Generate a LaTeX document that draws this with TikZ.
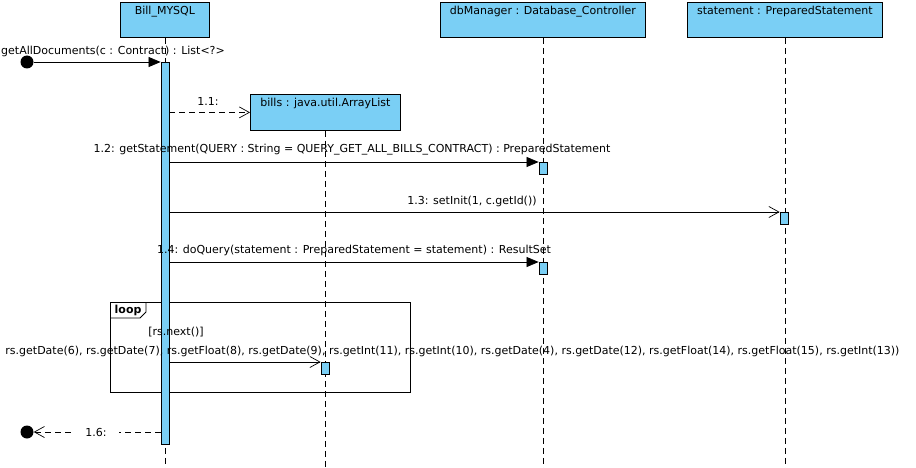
\documentclass[tikz,border=0pt]{standalone}
\usepackage{fontspec}
\setmainfont{DejaVu Sans}
\usetikzlibrary{arrows.meta}
\definecolor{vpblue}{RGB}{122,207,245}
\begin{document}
\begin{tikzpicture}[x=1pt,y=-1pt,
  font=\fontsize{11}{13}\selectfont,
  objbox/.style={draw, fill=vpblue, line width=0.8pt, anchor=north west, minimum height=35pt, inner sep=0pt},
  objtitle/.style={anchor=north, inner sep=0pt, yshift=-3.5pt},
  lifeline/.style={line width=0.7pt, dash pattern=on 6pt off 4pt},
  actbar/.style={draw, fill=vpblue, line width=0.8pt, minimum width=8pt, inner sep=0pt, anchor=north},
  sync/.style={line width=0.7pt, -{Triangle[length=12pt,width=10pt]}},
  async/.style={line width=0.7pt, -{Straight Barb[length=10pt,width=11pt]}},
  ret/.style={async, dash pattern=on 6pt off 4pt},
  msg/.style={inner sep=0pt},
  endpt/.style={circle, fill=black, minimum size=13pt, inner sep=0pt},
]
\useasboundingbox (0,0) rectangle (916,468);
\fill[white] (0,0) rectangle (916,468);

% objects
\node[objbox, minimum width=89pt] (bill) at (120,2) {};
\node[objtitle] (billt) at (bill.north) {Bill\_MYSQL};
\node[objbox, minimum width=205pt] (db) at (440,2) {};
\node[objtitle] (dbt) at (db.north) {dbManager : Database\_Controller};
\node[objbox, minimum width=195pt] (st) at (687,2) {};
\node[objtitle] (stt) at (st.north) {statement : PreparedStatement};

% lifelines
\coordinate (bottom) at (0,468);
\draw[lifeline] (bill.south) -- (bill.south |- bottom);
\draw[lifeline] (db.south) -- (db.south |- bottom);
\draw[lifeline] (st.south) -- (st.south |- bottom);

% created object
\node[objbox, minimum width=150pt, minimum height=36pt] (bills) at (250,94) {};
\node[objtitle] (billst) at (bills.north) {bills : java.util.ArrayList};
\draw[lifeline] (bills.south) -- (bills.south |- bottom);

% loop frame
\node[draw, line width=0.8pt, anchor=north west, minimum width=300pt, minimum height=90pt, inner sep=0pt] (loopf) at (110,302) {};
\coordinate (tabr) at (146,302);
\draw[line width=0.8pt] (tabr) -- ++(0,10) -- ++(-6,6) -- (loopf.north west |- 0,318);
\node[anchor=west, inner sep=0pt, font=\fontsize{11}{13}\selectfont\bfseries] (looplbl) at (114.5,310) {loop};

% activation bars
\node[actbar, minimum height=382pt] (actB) at (165,62) {};
\node[actbar, minimum height=12pt] (actD1) at (543,162) {};
\node[actbar, minimum height=12pt] (actS) at (784,212) {};
\node[actbar, minimum height=12pt] (actD2) at (543,262) {};
\node[actbar, minimum height=12pt] (actL) at (325,362) {};

\node[msg] (guard) at (176,332) {[rs.next()]};

% found message
\node[endpt] (start) at (27,62) {};
\draw[sync] (start) -- (actB.north west);
\node[msg, anchor=west] (m0) at (1,51) {getAllDocuments(c : Contract) : List<?>};

% 1.1 create
\draw[ret] (actB.east |- bills.west) -- (bills.west);
\node[msg] (m1) at (208,101) {1.1:};

% 1.2
\draw[sync] (actB.east |- actD1.north) -- (actD1.north west);
\node[msg] (m2) at (352,150) {1.2: getStatement(QUERY : String = QUERY\_GET\_ALL\_BILLS\_CONTRACT) : PreparedStatement};

% 1.3
\draw[async] (actB.east |- actS.north) -- (actS.north west);
\node[msg] (m3) at (472,201) {1.3: setInit(1, c.getId())};

% 1.4
\draw[sync] (actB.east |- actD2.north) -- (actD2.north west);
\node[msg] (m4) at (354,250) {1.4: doQuery(statement : PreparedStatement = statement) : ResultSet};

% 1.5
\draw[async] (actB.east |- actL.north) -- (actL.north west);
\node[msg] (m5) at (452.5,351) {rs.getDate(6), rs.getDate(7), rs.getFloat(8), rs.getDate(9), rs.getInt(11), rs.getInt(10), rs.getDate(4), rs.getDate(12), rs.getFloat(14), rs.getFloat(15), rs.getInt(13))};

% 1.6 return
\node[endpt] (stop) at (27,432) {};
\draw[ret] (actB.west |- stop) -- (stop);
\node[msg, fill=white, inner xsep=12pt, inner ysep=2pt] (m6) at (96,432) {1.6:};
\end{tikzpicture}
\end{document}
